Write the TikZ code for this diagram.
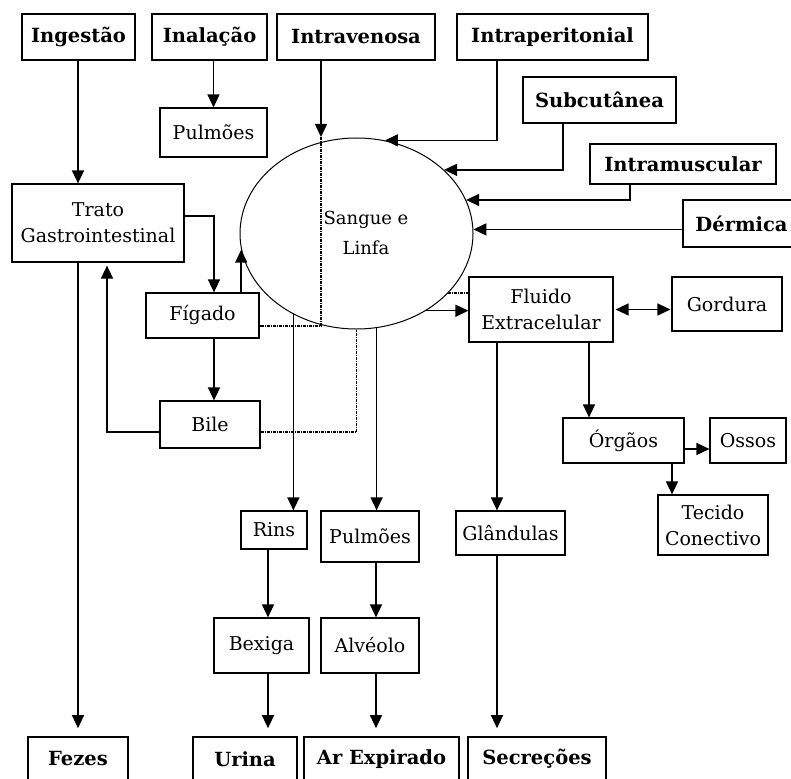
\documentclass[tikz,border=0pt]{standalone}
\usepackage{fontspec}
\setmainfont{DejaVu Serif}
\usetikzlibrary{arrows.meta,shapes.geometric}

\begin{document}
\begin{tikzpicture}[x=1pt,y=-1pt,
  sz/.style 2 args={minimum width=#1pt, minimum height=#2pt},
  box/.style={draw, line width=1.2pt, inner sep=0pt, align=center,
    font=\fontsize{19}{26}\selectfont},
  route/.style={box, line width=1.7pt, font=\fontsize{19.5}{24}\selectfont\bfseries},
  conn/.style={line width=1.5pt},
  arr/.style={conn, -{Triangle[length=13pt,width=12pt]}},
  arrs/.style={conn, {Triangle[length=13pt,width=12pt]}-{Triangle[length=13pt,width=12pt]}},
  dot/.style={line width=1.3pt, dash pattern=on 3pt off 1pt on 1pt off 1pt},
  gap/.style={shorten >=8pt}
]
\clip (0,0) rectangle (791,778);
\fill[white] (0,0) rectangle (791,778);

% routes of entry
\node[route, sz={113}{46}] (ingestao)  at (78.5,37)  {Ingestão};
\node[route, sz={115}{46}] (inalacao)  at (209.5,37) {Inalação};
\node[route, sz={158}{46}] (intraven)  at (356,37)   {Intravenosa};
\node[route, sz={191}{46}] (intraper)  at (552.5,37) {Intraperitonial};
\node[route, sz={153}{46}] (subcut)    at (599.5,100){Subcutânea};
\node[route, sz={186}{40}] (intramusc) at (683,164)  {Intramuscular};
\node[route, sz={117}{47}] (dermica)   at (741.5,223.5){Dérmica};

% distribution
\node[box, sz={107}{49}] (pulm1)  at (213.5,132.5) {Pulmões};
\node[box, sz={172}{78}] (trato)  at (98,223)     {Trato\\Gastrointestinal};
\node[box, sz={113}{45}] (figado) at (202.5,315.5) {Fígado};
\node[box, sz={100}{47}] (bile)   at (210,424.5)  {Bile};
\node[ellipse, draw, line width=1pt, inner sep=0pt, sz={233}{191}] (sangue) at (356.5,233.5) {};
\node[align=center, font=\fontsize{18}{30}\selectfont] (sangueTxt) at (366,233) {Sangue e\\Linfa};
\node[box, sz={144}{65}] (fluido)  at (541,309.5) {Fluido\\Extracelular};
\node[box, sz={110}{54}] (gordura) at (727,304)   {Gordura};
\node[box, sz={121}{45}] (orgaos)  at (623.5,440.5) {Órgãos};
\node[box, sz={76}{45}]  (ossos)   at (748,440.5) {Ossos};
\node[box, sz={110}{60}] (tecido)  at (713,525)   {Tecido\\Conectivo};
\node[box, sz={66}{38}]  (rins)    at (274,530)   {Rins};
\node[box, sz={98}{51}]  (pulm2)   at (370,536.5) {Pulmões};
\node[box, sz={109}{44}] (glandulas) at (510.5,533) {Glândulas};
\node[box, sz={95}{55}]  (bexiga)  at (261.5,645.5) {Bexiga};
\node[box, sz={98}{55}]  (alveolo) at (370,645.5) {Alvéolo};

% excretion
\node[route, sz={100}{44}] (fezes)     at (78,759)    {Fezes};
\node[route, sz={104}{44}] (urina)     at (245,759)   {Urina};
\node[route, sz={155}{44}] (arexp)     at (381.5,759) {Ar Expirado};
\node[route, sz={138}{44}] (secrecoes) at (537,759)   {Secreções};

\coordinate (ivtip) at (321,137);

% entry connectors
\draw[arr] (ingestao.south -| fezes.north) -- (fezes.north |- trato.north);
\draw[arr] (pulm1.north |- inalacao.south) -- (pulm1.north);
\draw[arr] (ivtip |- intraven.south) -- (ivtip);
\draw[arr] ([xshift=-55.5pt]intraper.south) |- (sangue.73);
\draw[arr] ([xshift=-36.5pt]subcut.south) |- (sangue.36);
\draw[arr] ([xshift=-53pt]intramusc.south) |- (sangue.17);
\draw[arr] (dermica.west |- sangue.2) -- (sangue.2);

% gastrointestinal and hepatic paths
\draw[arr] ([yshift=7pt]trato.east) -| ([xshift=11.5pt]figado.north);
\draw[arr] (sangue.188 |- figado.north) -- (sangue.188);
\draw[arr] ([xshift=11.5pt]figado.south) -- ([xshift=11.5pt]figado.south |- bile.north);
\draw[arr, shorten >=3pt] ([yshift=-7.5pt]bile.west) -| ([xshift=9pt]trato.south);
\draw[arr, gap] (fezes.north |- trato.south) -- (fezes.north);
\draw[dot] (ivtip) |- ([yshift=-10.5pt]figado.east);
\draw[dot] ([yshift=-7.5pt]bile.east) -| (sangue.south);

% elimination
\draw[arr] (sangue.232) -- (sangue.232 |- rins.north);
\draw[arr] (sangue.282) -- (sangue.282 |- pulm2.north);
\draw[arr] ([xshift=-6pt]rins.south) -- ([xshift=-6pt]rins.south |- bexiga.north);
\draw[arr, gap] ([xshift=6.5pt]bexiga.south) -- ([xshift=6.5pt]bexiga.south |- urina.north);
\draw[arr] ([xshift=6pt]pulm2.south) -- ([xshift=6pt]pulm2.south |- alveolo.north);
\draw[arr, gap] ([xshift=6pt]alveolo.south) -- ([xshift=6pt]alveolo.south |- arexp.north);

% extracellular fluid
\draw[arr] (sangue.312) -- (sangue.312 -| fluido.west);
\draw[dot] (sangue.327.5) -- (sangue.327.5 -| fluido.west);
\draw[arrs, shorten <=2pt, shorten >=1pt] (fluido.east) -- (fluido.east -| gordura.west);
\draw[arr] ([xshift=-44pt]fluido.south) -- ([xshift=-44pt]fluido.south |- glandulas.north);
\draw[arr, gap] ([xshift=-13.5pt]glandulas.south) -- ([xshift=-13.5pt]glandulas.south |- secrecoes.north);
\draw[arr] ([xshift=48pt]fluido.south) -- ([xshift=48pt]fluido.south |- orgaos.north);
\draw[arr] ([yshift=-8.5pt]orgaos.east) -- ([yshift=-8.5pt]orgaos.east -| ossos.west);
\draw[arr] ([xshift=48.5pt]orgaos.south) -- ([xshift=48.5pt]orgaos.south |- tecido.north);
\end{tikzpicture}
\end{document}
